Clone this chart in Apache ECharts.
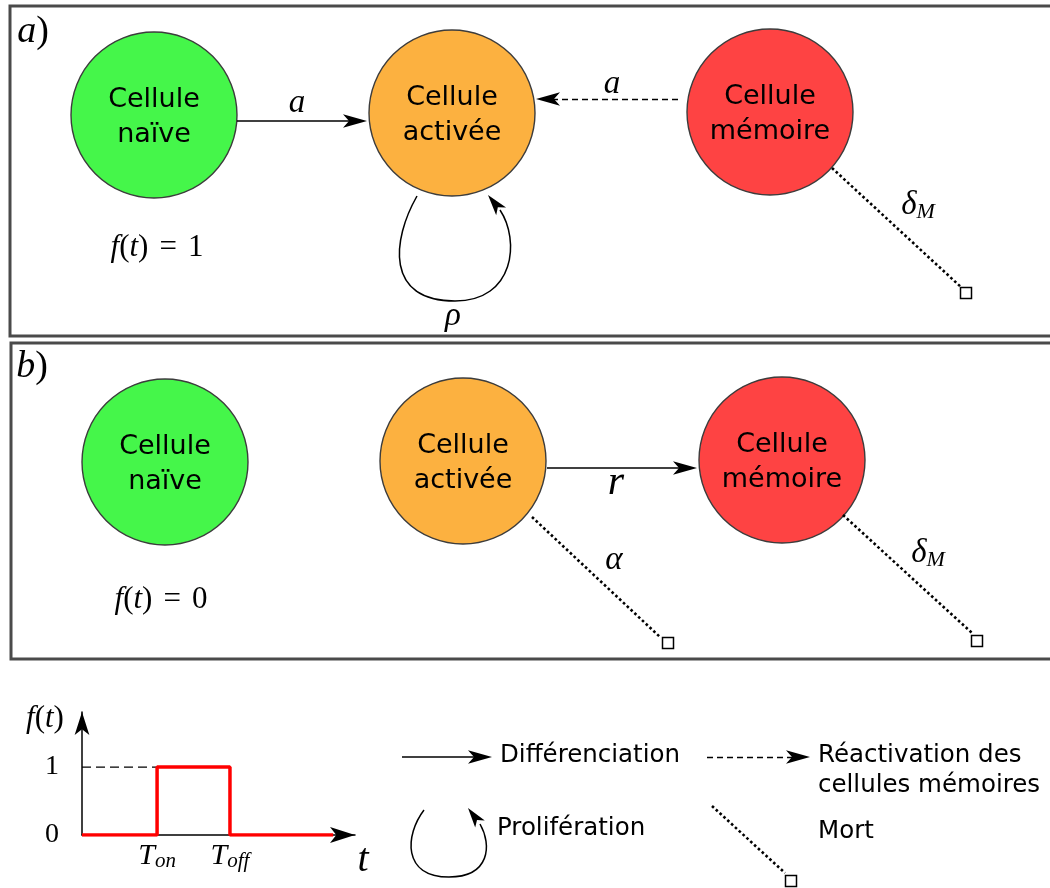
<!DOCTYPE html>
<html><head><meta charset="utf-8">
<script src="https://cdn.jsdelivr.net/npm/echarts@6/dist/echarts.min.js"></script>
<style>html,body{margin:0;padding:0;background:#fff}#c{width:1050px;height:888px}</style>
</head><body><div id="c"></div>
<script>
// ================= DATA =================
// cell types (nodes)
const cellLabels = ['Cellule\nnaïve', 'Cellule\nactivée', 'Cellule\nmémoire'];
// node centres, panel a) and panel b)  (diagram units = px of the figure)
const panelANodes = [[154, 115], [452, 113], [770, 112]];
const panelBNodes = [[165, 462], [463, 461], [782, 460]];
// transitions: [from, to]
const diffEdges = [[[237, 121], [367, 121]], [[547, 468], [697, 468]], [[402, 757], [492, 757]]];
const reactEdges = [[[678, 99], [536, 99]], [[707, 757], [810, 757]]];
const deathEdges = [[[832, 168], [962, 288]], [[532, 517], [660, 637]], [[843, 515], [972, 633]], [[712, 806], [785, 873]]];
const deathEnds = [[966, 293], [668, 643], [977, 641], [791, 881]];
// proliferation loops: two cubic segments [start, c1, c2, end] each, then arrow tip
const loopA = [
  [[417, 196], [392, 240], [385, 301], [455, 301]],
  [[455, 301], [515, 301], [520, 240], [500, 210]]
];
const loopATip = [488, 195];
const loopLegend = [
  [[424, 810], [405, 835], [402, 877], [449, 877]],
  [[449, 877], [490, 877], [492, 845], [480, 824]]
];
const loopLegendTip = [468, 808];
// panel frames
const frameA = [[1060, 6], [10, 6], [10, 336], [1060, 336]];
const frameB = [[1060, 343], [11, 343], [11, 659], [1060, 659]];
// math labels: [x, y, text]
const mathLabels = [
  [33, 32, '{ai|a}{an|)}'],
  [32, 367, '{ai|b}{an|)}'],
  [157, 248, '{fi|f}{fn|(}{fi|t}{fn|)}{fe|=}{fn|1}'],
  [161, 600, '{fi|f}{fn|(}{fi|t}{fn|)}{fe|=}{fn|0}'],
  [297, 103, '{v|a}'],
  [612, 84, '{v|a}'],
  [453, 316, '{v|ρ}'],
  [918, 205, '{v|δ}{sub|M}'],
  [616, 483, '{vb|r}'],
  [614, 560, '{v|α}'],
  [928, 553, '{v|δ}{sub|M}'],
  [45, 719, '{fi|f}{fn|(}{fi|t}{fn|)}'],
  [363, 860, '{tt|t}']
];
// legend texts: [x, y, text]
const legendTexts = [
  [500, 756, 'Différenciation'],
  [818, 756, 'Réactivation des'],
  [818, 786, 'cellules mémoires'],
  [497, 829, 'Prolifération'],
  [818, 832, 'Mort']
];
// activation signal f(t)
const fTimes = [0, 2.75, 5.42, 9.2];
const fValues = [0, 1, 0, 0];
const fTickTimes = [2.75, 5.42];
const fTickLabels = ['{T|T}{s|on}', '{T|T}{s|off}'];
const fLevelTicks = [0, 1];

// ================= STYLE =================
const cellColors = ['#45f64a', '#fcb140', '#fe4343'];
const SERIF = "'Liberation Serif', 'DejaVu Serif', serif";
const SANS = "'DejaVu Sans', sans-serif";
const ARROW_W = 10, ARROW_H = 24;

function arrowItem(from, tip) {
  const dx = tip[0] - from[0], dy = tip[1] - from[1];
  const L = Math.hypot(dx, dy);
  return { value: tip, symbolRotate: Math.atan2(-dx / L, -dy / L) * 180 / Math.PI };
}
function shorten(from, tip, h) {
  const dx = tip[0] - from[0], dy = tip[1] - from[1];
  const L = Math.hypot(dx, dy);
  return [tip[0] - dx / L * h / 2, tip[1] - dy / L * h / 2];
}

const arrows = [];
diffEdges.concat(reactEdges).forEach(e => arrows.push(arrowItem(e[0], e[1])));
const loopArrows = [
  Object.assign(arrowItem(loopA[1][3], loopATip), { symbolSize: [9.5, 21] }),
  Object.assign(arrowItem(loopLegend[1][3], loopLegendTip), { symbolSize: [9, 20] })
];

const nodes = [];
[panelANodes, panelBNodes].forEach(p => p.forEach((pt, i) => nodes.push({
  value: pt, name: cellLabels[i], itemStyle: { color: cellColors[i] }
})));

const K = '#000';
const richMath = {
  ai: { color: K, fontFamily: SERIF, fontStyle: 'italic', fontSize: 38, lineHeight: 40 },
  an: { color: K, fontFamily: SERIF, fontSize: 38, lineHeight: 40 },
  v: { color: K, fontFamily: SERIF, fontStyle: 'italic', fontSize: 33, lineHeight: 36 },
  vb: { color: K, fontFamily: SERIF, fontStyle: 'italic', fontSize: 42, lineHeight: 44 },
  sub: { color: K, fontFamily: SERIF, fontStyle: 'italic', fontSize: 22, lineHeight: 18, verticalAlign: 'bottom' },
  fi: { color: K, fontFamily: SERIF, fontStyle: 'italic', fontSize: 31, lineHeight: 34 },
  fn: { color: K, fontFamily: SERIF, fontSize: 31, lineHeight: 34 },
  fe: { color: K, fontFamily: SERIF, fontSize: 31, lineHeight: 34, padding: [0, 11] },
  tt: { color: K, fontFamily: SERIF, fontStyle: 'italic', fontSize: 40, lineHeight: 42 }
};

const chart = echarts.init(document.getElementById('c'), null, { renderer: 'canvas' });
chart.setOption({
  animation: false,
  backgroundColor: '#fff',
  grid: [
    { left: 0, top: 0, width: 1050, height: 888, outerBoundsMode: 'none' },
    { left: 82, top: 712, width: 273, height: 123, outerBoundsMode: 'none' }
  ],
  xAxis: [
    { gridIndex: 0, type: 'value', min: 0, max: 1050, show: false },
    {
      gridIndex: 1, type: 'value', min: 0, max: 10,
      axisLine: { show: true, onZero: false, symbol: ['none', 'arrow'], symbolSize: [12, 25], lineStyle: { color: K, width: 1.5 } },
      axisTick: { show: false }, splitLine: { show: false },
      axisLabel: {
        customValues: fTickTimes, margin: 5, color: K,
        formatter: v => fTickLabels[fTickTimes.indexOf(v)] || '',
        rich: {
          T: { color: K, fontFamily: SERIF, fontStyle: 'italic', fontSize: 30, lineHeight: 32 },
          s: { color: K, fontFamily: SERIF, fontStyle: 'italic', fontSize: 21, lineHeight: 17, verticalAlign: 'bottom' }
        }
      }
    }
  ],
  yAxis: [
    { gridIndex: 0, type: 'value', min: 0, max: 888, inverse: true, show: false },
    {
      gridIndex: 1, type: 'value', min: 0, max: 1.81,
      axisLine: { show: true, onZero: false, symbol: ['none', 'arrow'], symbolSize: [11, 23], lineStyle: { color: K, width: 1.5 } },
      axisTick: { show: false }, splitLine: { show: false },
      axisLabel: { customValues: fLevelTicks, margin: 23, color: K, fontFamily: SERIF, fontSize: 28 }
    }
  ],
  series: [
    { // frames
      type: 'lines', coordinateSystem: 'cartesian2d', xAxisIndex: 0, yAxisIndex: 0, polyline: true, silent: true, z: 1,
      lineStyle: { color: '#4a4a4a', width: 3, opacity: 1 },
      data: [{ coords: frameA }, { coords: frameB }]
    },
    { // cells
      type: 'scatter', xAxisIndex: 0, yAxisIndex: 0, symbol: 'circle', symbolSize: 166, silent: true, z: 2,
      itemStyle: { borderColor: '#3c3c3c', borderWidth: 1.4, opacity: 1 },
      label: { show: true, position: 'inside', formatter: p => p.name, color: K, fontFamily: SANS, fontSize: 27, lineHeight: 35, offset: [0, 2] },
      data: nodes
    },
    { // differentiation (solid)
      type: 'lines', coordinateSystem: 'cartesian2d', xAxisIndex: 0, yAxisIndex: 0, silent: true, z: 3,
      lineStyle: { color: K, width: 1.5, opacity: 1 },
      data: diffEdges.map(e => ({ coords: [e[0], shorten(e[0], e[1], ARROW_H)] }))
    },
    { // reactivation (dashed)
      type: 'lines', coordinateSystem: 'cartesian2d', xAxisIndex: 0, yAxisIndex: 0, silent: true, z: 3,
      lineStyle: { color: K, width: 1.4, type: [6, 4], opacity: 1 },
      data: reactEdges.map(e => ({ coords: [e[0], shorten(e[0], e[1], ARROW_H)] }))
    },
    { // death (dotted)
      type: 'lines', coordinateSystem: 'cartesian2d', xAxisIndex: 0, yAxisIndex: 0, silent: true, z: 3,
      lineStyle: { color: K, width: 2.6, type: [2.6, 2.6], opacity: 1 },
      data: deathEdges.map(e => ({ coords: e }))
    },
    { // proliferation loops (cubic curves through the axes' coordinates)
      type: 'custom', xAxisIndex: 0, yAxisIndex: 0, silent: true, z: 3,
      data: [loopA, loopLegend].map((l, i) => [l[0][0][0], l[0][0][1], i]),
      renderItem: (params, api) => {
        const loop = [loopA, loopLegend][api.value(2)];
        return {
          type: 'group',
          children: loop.map(seg => {
            const p = seg.map(pt => api.coord(pt));
            return {
              type: 'bezierCurve',
              shape: { x1: p[0][0], y1: p[0][1], cpx1: p[1][0], cpy1: p[1][1], cpx2: p[2][0], cpy2: p[2][1], x2: p[3][0], y2: p[3][1] },
              style: { stroke: K, fill: null, lineWidth: 1.5 }
            };
          })
        };
      }
    },
    { // arrowheads
      type: 'scatter', xAxisIndex: 0, yAxisIndex: 0, symbol: 'arrow', symbolSize: [ARROW_W, ARROW_H], silent: true, z: 4,
      itemStyle: { color: K, opacity: 1 }, data: arrows.concat(loopArrows)
    },
    { // death end markers
      type: 'scatter', xAxisIndex: 0, yAxisIndex: 0, symbol: 'rect', symbolSize: 11, silent: true, z: 4,
      itemStyle: { color: '#fff', borderColor: K, borderWidth: 1.5, opacity: 1 }, data: deathEnds
    },
    { // math labels
      type: 'scatter', xAxisIndex: 0, yAxisIndex: 0, symbolSize: 0, silent: true, z: 5,
      itemStyle: { opacity: 1 },
      label: { show: true, position: 'inside', color: K, rich: richMath, formatter: p => p.data.t },
      data: mathLabels.map(m => ({ value: [m[0], m[1]], t: m[2] }))
    },
    { // legend texts
      type: 'scatter', xAxisIndex: 0, yAxisIndex: 0, symbolSize: 0, silent: true, z: 5,
      itemStyle: { opacity: 1 },
      label: { show: true, position: 'inside', align: 'left', color: K, fontFamily: SANS, fontSize: 24.5, formatter: p => p.data.t },
      data: legendTexts.map(m => ({ value: [m[0], m[1]], t: m[2] }))
    },
    { // f(t) dashed level
      type: 'line', xAxisIndex: 1, yAxisIndex: 1, symbol: 'none', silent: true, z: 3,
      lineStyle: { color: K, width: 1.3, type: [9, 5] },
      data: [[0, 1], [fTimes[1], 1]]
    },
    { // f(t) signal
      type: 'line', xAxisIndex: 1, yAxisIndex: 1, step: 'end', symbol: 'none', silent: true, z: 4,
      lineStyle: { color: '#ff0000', width: 3.5 },
      data: fTimes.map((t, i) => [t, fValues[i]])
    }
  ]
});
</script>
</body></html>
